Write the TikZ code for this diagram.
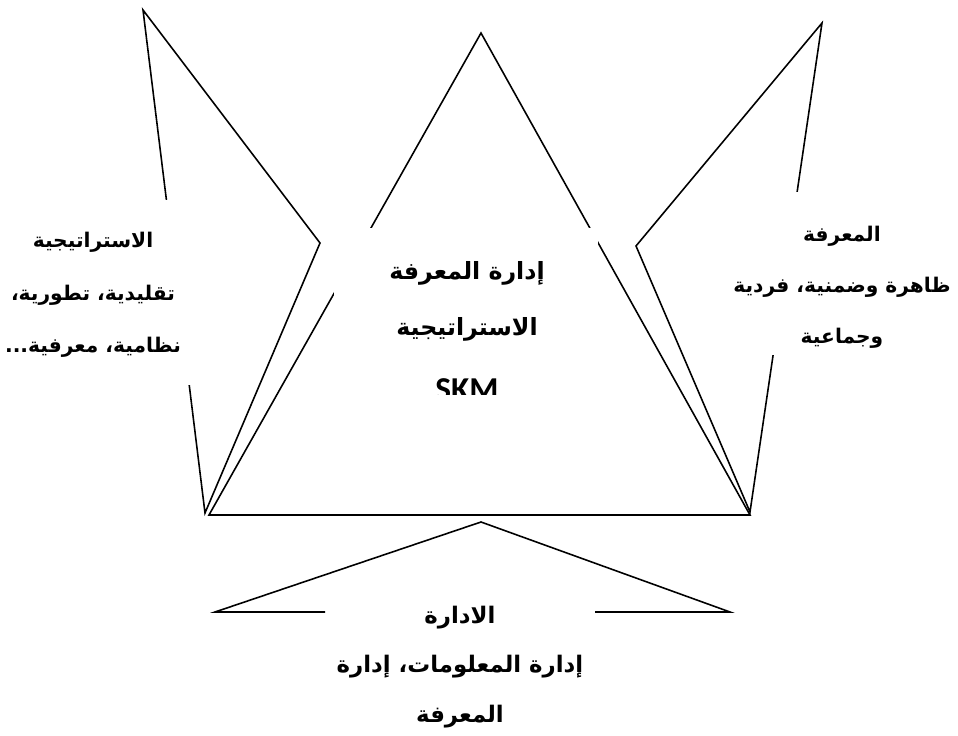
\documentclass[tikz,border=0pt]{standalone}
\usepackage{fontspec}
\setmainfont{DejaVu Sans}
\newfontfamily\arabicfont[Script=Arabic]{DejaVu Sans}
\newfontfamily\latinfont{Carlito}
\TeXXeTstate=1

\begin{document}
\begin{tikzpicture}[x=0.02cm,y=-0.02cm,
  edge/.style={line width=0.9pt, line join=miter},
  mask/.style={fill=white, draw=none},
  lab/.style={inner sep=0pt, align=center, font=\arabicfont\bfseries\fontsize{11.5}{30}\selectfont}
]
\useasboundingbox (0,0) rectangle (958,736);

% ===================== Triangle =====================
\coordinate (T)  at (481,33);
\coordinate (BL) at (209,515);
\coordinate (BR) at (750,515);
\draw[edge] (T) -- (BL) -- (BR) -- cycle;

% ===================== Callouts =====================
% left
\coordinate (LA) at (143,10);
\coordinate (LK) at (320,243);
\coordinate (LP) at (205,513);
\draw[edge] (LA) -- (LK) -- (LP) -- cycle;

% right
\coordinate (RA) at (822,23);
\coordinate (RK) at (636,246);
\coordinate (RP) at (750,512);
\draw[edge] (RA) -- (RK) -- (RP) -- cycle;

% bottom
\coordinate (DA)  at (481,522);
\coordinate (DL)  at (215,612);
\coordinate (DR)  at (730,612);
\coordinate (DLi) at (325,612);
\coordinate (DRi) at (595,612);
\draw[edge] (DLi) -- (DL) -- (DA) -- (DR) -- (DRi);

% ===================== Text boxes =====================
\fill[mask] (0,200) rectangle (250,385);
\fill[mask] (700,192) rectangle (958,355);
\fill[mask] (334,228) rectangle (598,395);

\node[lab] (strat) at (93,295) {\beginR الاستراتيجية\endR\\ \beginR تقليدية، تطورية،\endR\\ \beginR نظامية، معرفية...\endR};

\node[lab, font=\arabicfont\bfseries\fontsize{11.5}{29}\selectfont] (know) at (842,287)
  {\beginR المعرفة\endR\\ \beginR ظاهرة وضمنية،  فردية\endR\\ \beginR وجماعية\endR};

\begin{scope}
  \clip (334,228) rectangle (598,395);
  \node[lab, font=\arabicfont\bfseries\fontsize{13.5}{32}\selectfont] (skm) at (467,331)
    {\beginR إدارة المعرفة\endR\\ \beginR الاستراتيجية\endR\\[5pt] {\latinfont\bfseries\fontsize{19}{20}\selectfont SKM}};
\end{scope}

\node[lab, font=\arabicfont\bfseries\fontsize{13}{28}\selectfont] (mgmt) at (460,667)
  {\beginR الادارة\endR\\ \beginR إدارة المعلومات،  إدارة\endR\\ \beginR المعرفة\endR};

\end{tikzpicture}
\end{document}
